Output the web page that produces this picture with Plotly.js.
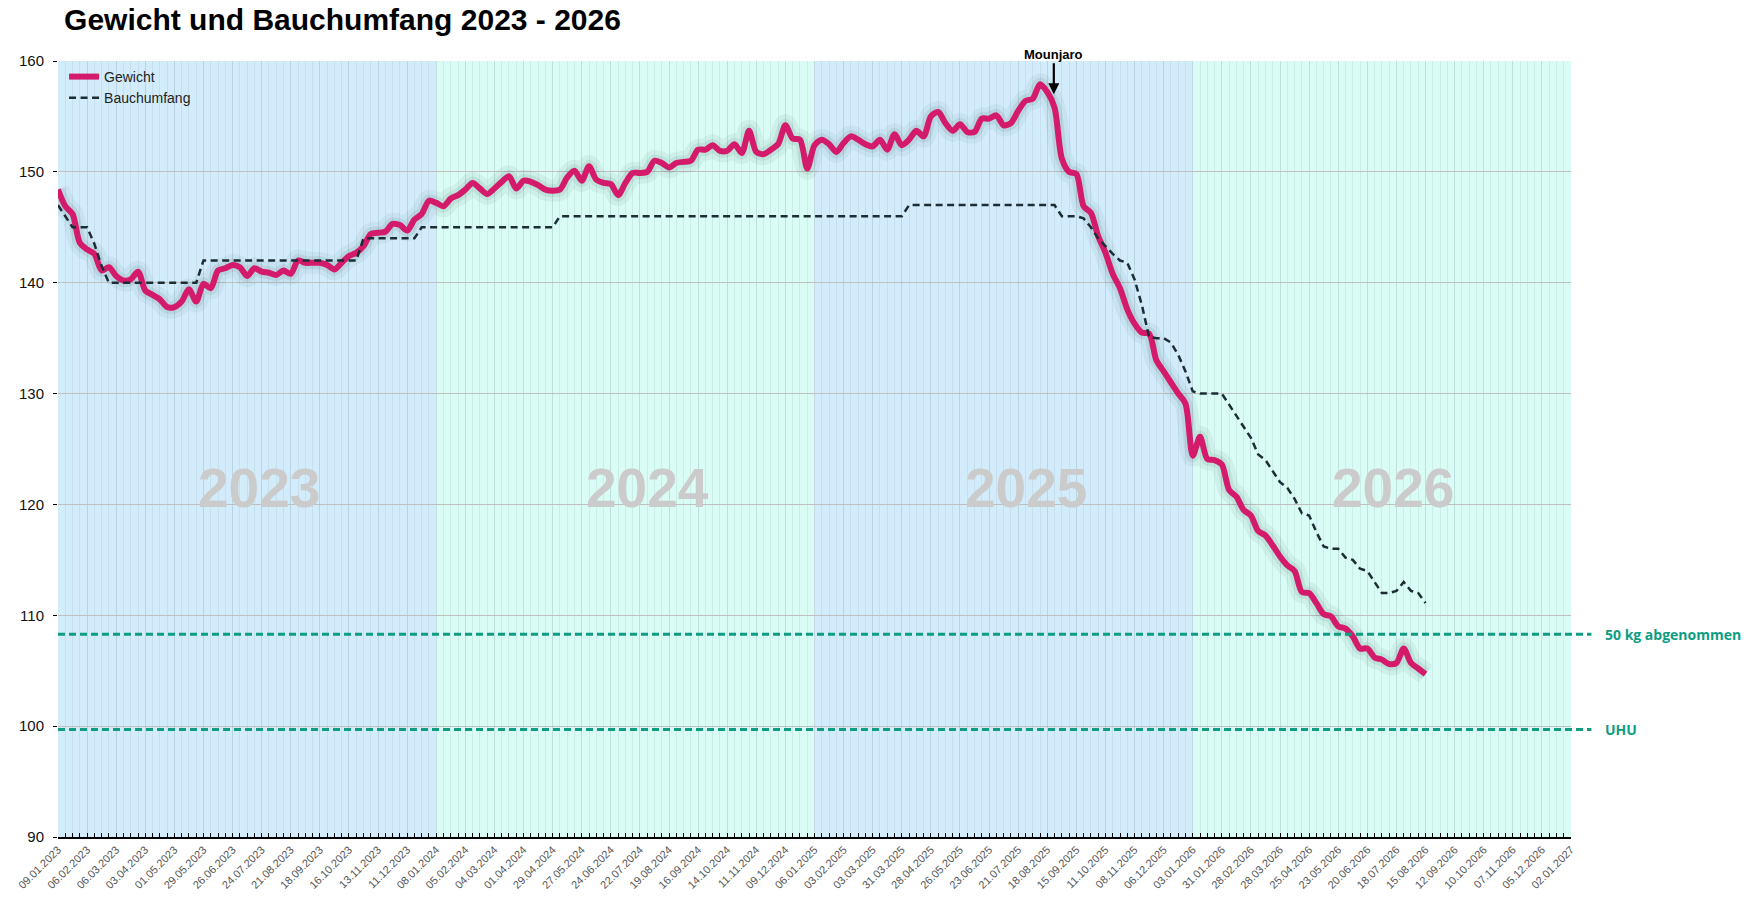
<!DOCTYPE html>
<html>
<head>
<meta charset="utf-8">
<script src="https://cdn.plot.ly/plotly-3.0.1.min.js"></script>
<style>
  html, body { margin: 0; padding: 0; background: #fff; }
  #chart { width: 1751px; height: 906px; }
</style>
</head>
<body>
<div id="chart"></div>
<script>
// weekly values, week 0 = 09.01.2023
var gewicht = [
  148.4, 146.9, 146.2, 143.6, 143.0, 142.6, 141.1, 141.4, 140.6, 140.2,
  140.3, 141.0, 139.3, 138.9, 138.5, 137.8, 137.8, 138.3, 139.4, 138.3,
  139.9, 139.5, 141.1, 141.3, 141.6, 141.4, 140.6, 141.3, 141.0, 140.9,
  140.7, 141.1, 140.8, 142.0, 141.8, 141.8, 141.8, 141.6, 141.2, 141.8,
  142.4, 142.7, 143.3, 144.4, 144.5, 144.6, 145.3, 145.2, 144.7, 145.7,
  146.2, 147.4, 147.2, 146.9, 147.6, 147.9, 148.4, 149.0, 148.5, 148.0,
  148.5, 149.1, 149.6, 148.5, 149.2, 149.1, 148.8, 148.4, 148.3, 148.4,
  149.5, 150.1, 149.2, 150.5, 149.3, 149.0, 148.9, 147.9, 149.0, 149.9,
  149.9, 150.0, 151.0, 150.8, 150.4, 150.8, 150.9, 151.0, 152.0, 152.0,
  152.4, 151.9, 151.9, 152.5, 151.7, 153.7, 151.8, 151.6, 152.0, 152.5,
  154.2, 153.0, 152.9, 150.3, 152.4, 152.9, 152.5, 151.8, 152.6, 153.2,
  152.9, 152.5, 152.3, 152.9, 152.0, 153.4, 152.4, 152.9, 153.7, 153.2,
  155.0, 155.4, 154.4, 153.7, 154.3, 153.6, 153.6, 154.8, 154.8, 155.1,
  154.2, 154.4, 155.5, 156.4, 156.6, 157.9, 157.2, 155.8, 151.2, 150.0,
  149.8, 146.9, 146.3, 144.2, 142.7, 140.8, 139.5, 137.6, 136.3, 135.5,
  135.4, 133.0, 132.0, 131.0, 130.0, 129.1, 124.4, 126.1, 124.1, 124.0,
  123.6, 121.3, 120.7, 119.5, 119.0, 117.6, 117.2, 116.3, 115.3, 114.5,
  114.0, 112.1, 112.0, 111.1, 110.1, 109.9, 109.0, 108.8, 108.1, 107.0,
  107.0, 106.2, 106.0, 105.6, 105.7, 107.0, 105.7, 105.2, 104.7
];

var bauchumfang = [
  147, 146, 145, 145, 145, 143.5, 141.5, 140, 140, 140,
  140, 140, 140, 140, 140, 140, 140, 140, 140, 140,
  142, 142, 142, 142, 142, 142, 142, 142, 142, 142,
  142, 142, 142, 142, 142, 142, 142, 142, 142, 142,
  142, 142, 144, 144, 144, 144, 144, 144, 144, 144,
  145, 145, 145, 145, 145, 145, 145, 145, 145, 145,
  145, 145, 145, 145, 145, 145, 145, 145, 145, 146,
  146, 146, 146, 146, 146, 146, 146, 146, 146, 146,
  146, 146, 146, 146, 146, 146, 146, 146, 146, 146,
  146, 146, 146, 146, 146, 146, 146, 146, 146, 146,
  146, 146, 146, 146, 146, 146, 146, 146, 146, 146,
  146, 146, 146, 146, 146, 146, 146, 147, 147, 147,
  147, 147, 147, 147, 147, 147, 147, 147, 147, 147,
  147, 147, 147, 147, 147, 147, 147, 147, 146, 146,
  146, 145.8, 145, 144, 143.3, 142.6, 142, 141.8, 140.3, 138,
  135.1, 135, 135, 134.6, 133.5, 132, 130.2, 130, 130, 130,
  130, 129, 128, 127, 126, 124.5, 124, 123, 122, 121.5,
  120.5, 119.2, 119, 117.5, 116.2, 116, 116, 115.2, 115, 114.2,
  114, 113, 112, 112, 112.2, 113, 112.2, 112, 111.1
];

var tickLabels = [
  "09.01.2023", "06.02.2023", "06.03.2023", "03.04.2023", "01.05.2023", "29.05.2023", "26.06.2023",
  "24.07.2023", "21.08.2023", "18.09.2023", "16.10.2023", "13.11.2023", "11.12.2023",
  "08.01.2024", "05.02.2024", "04.03.2024", "01.04.2024", "29.04.2024", "27.05.2024", "24.06.2024",
  "22.07.2024", "19.08.2024", "16.09.2024", "14.10.2024", "11.11.2024", "09.12.2024",
  "06.01.2025", "03.02.2025", "03.03.2025", "31.03.2025", "28.04.2025", "26.05.2025", "23.06.2025",
  "21.07.2025", "18.08.2025", "15.09.2025", "11.10.2025", "08.11.2025", "06.12.2025",
  "03.01.2026", "31.01.2026", "28.02.2026", "28.03.2026", "25.04.2026", "23.05.2026", "20.06.2026",
  "18.07.2026", "15.08.2026", "12.09.2026", "10.10.2026", "07.11.2026", "05.12.2026", "02.01.2027"
];

var jahre = ["2023", "2024", "2025", "2026"];
var zielWerte = [108.3, 99.7];
var zielTexte = ["50 kg abgenommen", "UHU"];
var mounjaroWoche = 136.9;
var mounjaroWert = 157.0;

var wochen = gewicht.map(function (v, i) { return i; });
var WEEKS_PER_YEAR = 52;
var FONT = "Liberation Sans, Arial, sans-serif";

var pink = "#d41a6a";
var teal = "#0e9c82";

var shadowOuter = {
  x: wochen, y: gewicht, mode: "lines", type: "scatter",
  line: { color: "rgba(20,60,60,0.06)", width: 22, shape: "spline", smoothing: 0.8 },
  showlegend: false, hoverinfo: "skip"
};
var shadowInner = {
  x: wochen, y: gewicht, mode: "lines", type: "scatter",
  line: { color: "rgba(20,60,60,0.08)", width: 13, shape: "spline", smoothing: 0.8 },
  showlegend: false, hoverinfo: "skip"
};
var gewichtTrace = {
  x: wochen, y: gewicht, mode: "lines", type: "scatter",
  name: "Gewicht",
  line: { color: pink, width: 6, shape: "spline", smoothing: 0.8 }
};
var bauchTrace = {
  x: wochen, y: bauchumfang, mode: "lines", type: "scatter",
  name: "Bauchumfang",
  line: { color: "#1d2d35", width: 2.5, dash: "7px,4.5px" }
};

var shapes = [];
var annotations = [];
var yearColors = ["#d3ecfb", "#d9fcf4"];
var yearLabelX = [27.6, 81.1, 133.1, 183.5];

jahre.forEach(function (j, k) {
  shapes.push({
    type: "rect", xref: "x", yref: "paper", layer: "below",
    x0: k * WEEKS_PER_YEAR, x1: (k + 1) * WEEKS_PER_YEAR, y0: 0, y1: 1,
    fillcolor: yearColors[k % 2], line: { width: 0 }
  });
  annotations.push({
    text: j, x: yearLabelX[k], y: 121.5, xref: "x", yref: "y",
    showarrow: false,
    font: { family: FONT, size: 55, weight: 700, color: "#cbcbcb" }
  });
});

zielWerte.forEach(function (w, k) {
  shapes.push({
    type: "line", xref: "paper", yref: "y", layer: "above",
    x0: 0, x1: 1.0135, y0: w, y1: w,
    line: { color: teal, width: 3, dash: "7px,4px" }
  });
  annotations.push({
    text: zielTexte[k], x: 1.021, y: w, xref: "paper", yref: "y",
    xanchor: "left", yanchor: "middle", showarrow: false,
    font: { family: "Open Sans, Noto Sans, sans-serif", size: 14, weight: 700, color: teal }
  });
});

annotations.push({
  text: "Mounjaro", x: mounjaroWoche, y: mounjaroWert, xref: "x", yref: "y",
  showarrow: true, arrowhead: 2, arrowsize: 1, arrowwidth: 2.2, arrowcolor: "#000",
  ax: 0, ay: -40,
  font: { family: FONT, size: 13, weight: 700, color: "#000" }
});

var layout = {
  width: 1751,
  height: 906,
  margin: { l: 58, r: 180, t: 61, b: 69 },
  paper_bgcolor: "#ffffff",
  plot_bgcolor: "#ffffff",
  title: {
    text: "Gewicht und Bauchumfang 2023 - 2026",
    xref: "container", x: 0.0366, xanchor: "left",
    yref: "container", y: 0.978, yanchor: "middle",
    font: { family: FONT, size: 30, weight: 700, color: "#000" }
  },
  xaxis: {
    range: [0, 208],
    tickmode: "array",
    tickvals: tickLabels.map(function (t, i) { return i * 4; }),
    ticktext: tickLabels,
    tickangle: -45,
    tickfont: { family: FONT, size: 11, color: "#555" },
    ticks: "inside", ticklen: 4, tickcolor: "#000", tickwidth: 1,
    showgrid: true, gridcolor: "rgba(110,140,150,0.13)", gridwidth: 1,
    minor: {
      dtick: 1, showgrid: true, gridcolor: "rgba(110,140,150,0.13)", gridwidth: 1,
      ticks: "inside", ticklen: 4, tickcolor: "#000", tickwidth: 1
    },
    showline: true, linecolor: "#000", linewidth: 2,
    zeroline: false, fixedrange: true
  },
  yaxis: {
    range: [90, 160],
    dtick: 10,
    tickfont: { family: FONT, size: 15, color: "#111" },
    ticks: "outside", ticklen: 4, tickcolor: "#000", tickwidth: 1,
    ticklabelstandoff: 6,
    showgrid: true, gridcolor: "#bfbfbf", gridwidth: 1,
    showline: false, zeroline: false, fixedrange: true
  },
  legend: {
    x: 0.004, y: 1.0, xanchor: "left", yanchor: "top",
    bgcolor: "rgba(0,0,0,0)",
    font: { family: FONT, size: 14, color: "#222" },
    tracegroupgap: 0
  },
  shapes: shapes,
  annotations: annotations,
  showlegend: true
};

Plotly.newPlot("chart", [shadowOuter, shadowInner, gewichtTrace, bauchTrace], layout, { displayModeBar: false, staticPlot: true });
</script>
</body>
</html>
